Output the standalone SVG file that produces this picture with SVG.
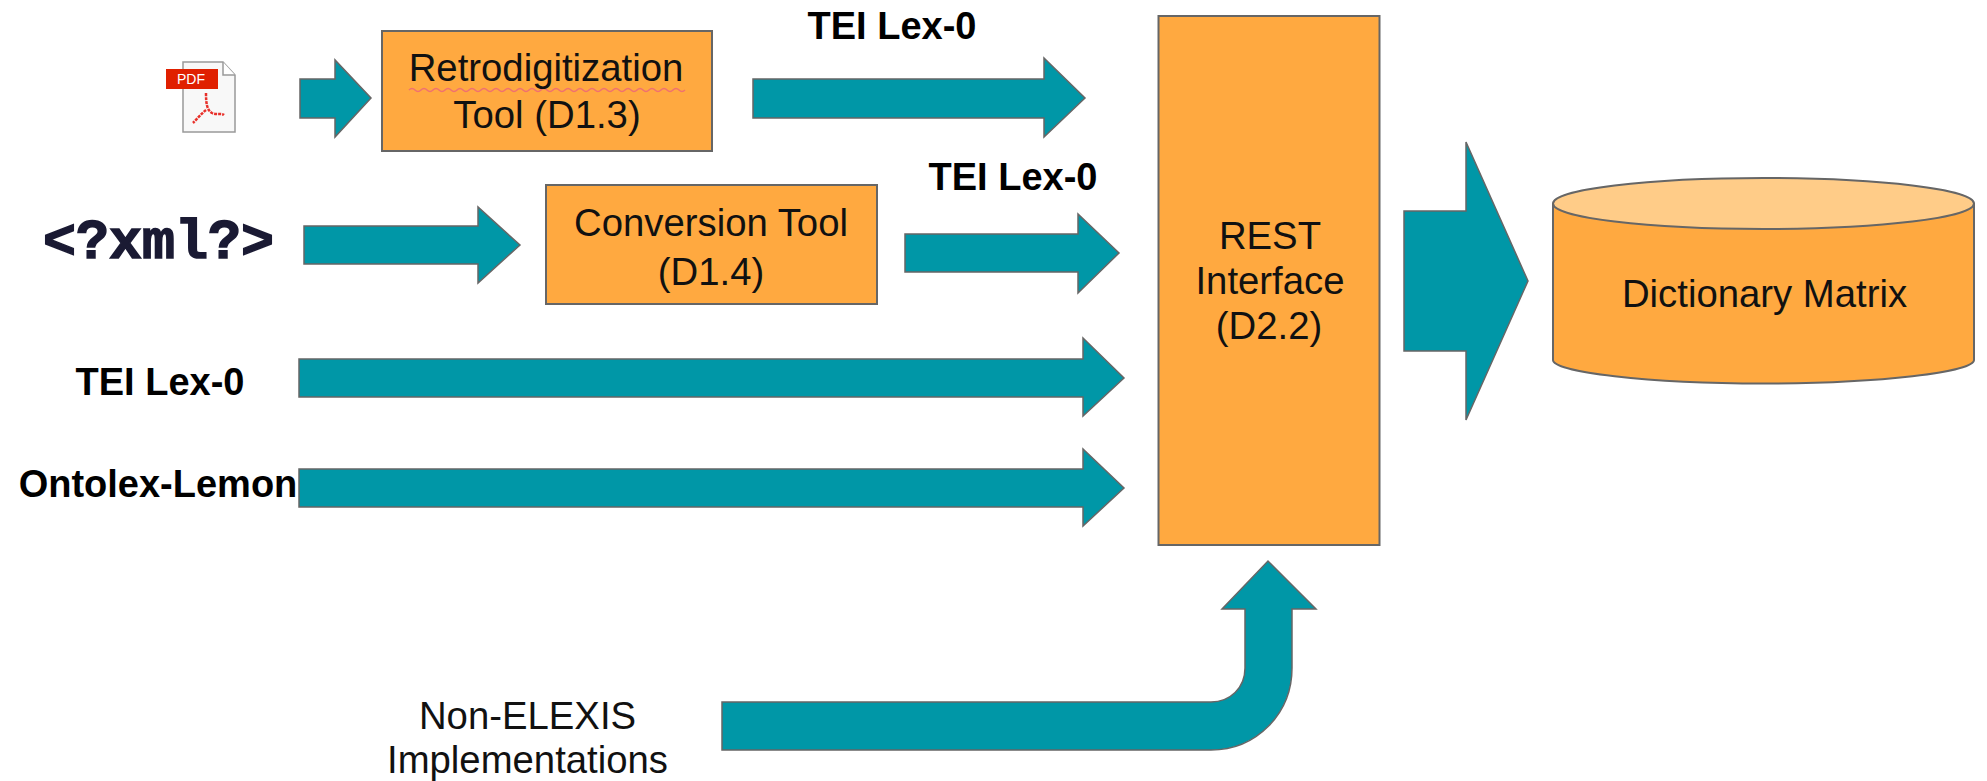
<svg xmlns="http://www.w3.org/2000/svg" width="1987" height="781" viewBox="0 0 1987 781">
<style>
text{font-family:"Liberation Sans",Arial,sans-serif;font-size:38.300px;fill:#111;text-anchor:middle}
.b{font-weight:700;fill:#000;font-size:38px}
.box{fill:#ffa940;stroke:#666;stroke-width:2}
.arr{fill:#0097a7;stroke:#666;stroke-width:1.500;stroke-linejoin:miter}
</style>
<rect width="1987" height="781" fill="#fff"/>
<g id="connectors">
<polygon class="arr" points="300,79 335,79 335,60 371,98 335,137 335,118 300,118"/>
<polygon class="arr" points="753,79 1044,79 1044,58 1085,98 1044,137 1044,118 753,118"/>
<polygon class="arr" points="304,226 478,226 478,207 520,245 478,283 478,264 304,264"/>
<polygon class="arr" points="905,234 1078,234 1078,214 1119,253 1078,293 1078,272 905,272"/>
<polygon class="arr" points="299,359 1083,359 1083,338 1124,378 1083,416 1083,397 299,397"/>
<polygon class="arr" points="299,469 1083,469 1083,449 1124,488 1083,526 1083,507 299,507"/>
<polygon class="arr" points="1404,211 1466,211 1466,142 1528,281 1466,420 1466,351 1404,351"/>
<path class="arr" d="M722,702H1211C1230,702 1245,688 1245,668V609H1222L1268,561 1316,609H1292V668C1292,714 1256,750 1211,750H722Z"/>
</g>
<g id="pdf-icon">
<path d="M183,62H223L235,75V132H183Z" fill="#f8f8f8" stroke="#999" stroke-width="1.500"/>
<path d="M223,62V75H235" fill="#fff" stroke="#999" stroke-width="1.500"/>
<rect x="166" y="69" width="52" height="20" fill="#e02000"/>
<text x="191" y="84" style="font-size:14px;fill:#fff">PDF</text>
<path d="M206,93C206,104 207,110 212,113C216,115 222,113 224,115M206,110C202,113 197,119 193,123" fill="none" stroke="#e8302a" stroke-width="2.500" stroke-dasharray="3 1"/>
</g>
<g id="xml-label"><text x="158.500" y="258" style="font-family:'Liberation Mono','Courier New',monospace;font-size:55px;font-weight:700;fill:#1a1a33;stroke:#1a1a33;stroke-width:1.500">&lt;?xml?&gt;</text></g>
<g id="retro-tool">
<rect class="box" x="382" y="31" width="330" height="120"/>
<path d="M409,90q3,-3 6,0t6,0 6,0 6,0 6,0 6,0 6,0 6,0 6,0 6,0 6,0 6,0 6,0 6,0 6,0 6,0 6,0 6,0 6,0 6,0 6,0 6,0 6,0 6,0 6,0 6,0 6,0 6,0 6,0 6,0 6,0 6,0 6,0 6,0 6,0 6,0 6,0 6,0 6,0 6,0 6,0 6,0 6,0 6,0 6,0 6,0" fill="none" stroke="#f07070" stroke-width="1.500"/>
<text x="546" y="81">Retrodigitization</text>
<text x="547" y="128">Tool (D1.3)</text>
</g>
<g id="conversion-tool">
<rect class="box" x="546" y="185" width="331" height="119"/>
<text x="711" y="236">Conversion Tool</text>
<text x="711" y="285">(D1.4)</text>
</g>
<g id="rest-interface">
<rect class="box" x="1158.500" y="16" width="221" height="529"/>
<text x="1270" y="249">REST</text>
<text x="1270" y="294">Interface</text>
<text x="1269" y="339">(D2.2)</text>
</g>
<g id="dictionary-matrix">
<path class="box" d="M1553,204V360C1553,372 1647,383.500 1763.500,383.500S1974,372 1974,360V204Z"/>
<ellipse cx="1763.500" cy="203.500" rx="210.500" ry="25.500" fill="#ffcc88" stroke="#666" stroke-width="2"/>
<text x="1764.500" y="307">Dictionary Matrix</text>
</g>
<g id="labels">
<text class="b" x="892" y="39">TEI Lex-0</text>
<text class="b" x="1013" y="190">TEI Lex-0</text>
<text class="b" x="160" y="395">TEI Lex-0</text>
<text class="b" x="158" y="497">Ontolex-Lemon</text>
<text x="527.500" y="729">Non-ELEXIS</text>
<text x="527.500" y="773">Implementations</text>
</g>
</svg>
